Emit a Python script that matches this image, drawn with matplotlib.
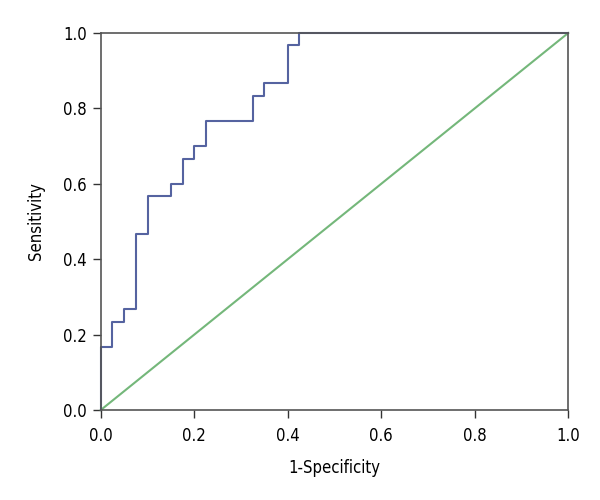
import matplotlib
matplotlib.use("Agg")
import matplotlib.pyplot as plt

# ROC curve step points (1-specificity, sensitivity)
fpr = [0.0, 0.0, 0.025, 0.025, 0.05, 0.05, 0.075, 0.075, 0.1, 0.1, 0.15, 0.15,
       0.175, 0.175, 0.2, 0.2, 0.225, 0.225, 0.325, 0.325, 0.35, 0.35, 0.4, 0.4,
       0.425, 0.425, 1.0]
tpr = [0.0, 0.167, 0.167, 0.233, 0.233, 0.267, 0.267, 0.467, 0.467, 0.567, 0.567, 0.6,
       0.6, 0.667, 0.667, 0.7, 0.7, 0.767, 0.767, 0.833, 0.833, 0.867, 0.867, 0.967,
       0.967, 1.0, 1.0]
ref_x = [0.0, 1.0]
ref_y = [0.0, 1.0]
ticks = [0.0, 0.2, 0.4, 0.6, 0.8, 1.0]

plt.rcParams['font.family'] = 'DejaVu Sans'
plt.rcParams['font.stretch'] = 'condensed'

fig = plt.figure(figsize=(6, 5), dpi=100)
ax = fig.add_axes([0.168, 0.18, 0.779, 0.754])

ax.plot(ref_x, ref_y, color='#74b77a', lw=1.5, clip_on=False)
ax.plot(fpr, tpr, color='#5563a0', lw=1.5, clip_on=False)

ax.set_xlim(0, 1)
ax.set_ylim(0, 1)
ax.set_xticks(ticks)
ax.set_yticks(ticks)
ax.set_xticklabels([f"{t:.1f}" for t in ticks], fontsize=12)
ax.set_yticklabels([f"{t:.1f}" for t in ticks], fontsize=12)
ax.tick_params(axis='x', direction='out', length=6, width=1, color='#333333', pad=6)
ax.tick_params(axis='y', direction='out', length=6, width=1, color='#333333', pad=4)
for s in ax.spines.values():
    s.set_color('#555555')
    s.set_linewidth(1.2)

ax.set_xlabel('1-Specificity', fontsize=12, labelpad=10)
ax.set_ylabel('Sensitivity', fontsize=12, labelpad=13)

fig.savefig('out.png', dpi=100)
